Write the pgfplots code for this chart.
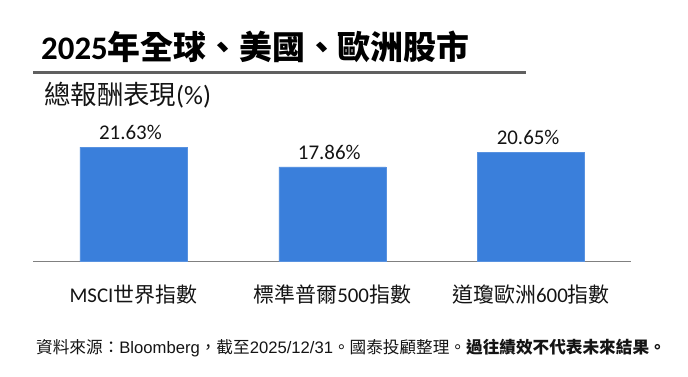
\documentclass[border=0pt]{standalone}
\usepackage{fontspec}
\usepackage{pgfplots}
\usepackage{pgfplotstable}
\pgfplotsset{compat=1.18}
\setmainfont{Carlito}
\newfontfamily\cjk{Noto Sans CJK TC}
\newfontfamily\arial{Liberation Sans}
\definecolor{barblue}{RGB}{58,127,219}
\definecolor{uline}{RGB}{96,96,96}
\definecolor{axgray}{RGB}{128,128,128}
\definecolor{txt}{RGB}{20,20,20}
\pgfplotstableread{
x y label
0 21.63 21.63\%
1 17.86 17.86\%
2 20.65 20.65\%
}\datatable
\begin{document}
\begin{tikzpicture}[x=1bp,y=1bp]
\useasboundingbox (0,0) rectangle (688,376);
\begin{axis}[
  at={(33bp,114.5bp)}, anchor=south west,
  scale only axis, width=598bp, height=132.3bp,
  xmin=-0.505, xmax=2.5025, ymin=0, ymax=25,
  axis y line=none,
  axis x line*=bottom,
  x axis line style={-, draw=axgray, line width=1.5bp},
  xtick=data,
  xticklabels={MSCI{\cjk 世界指數},{\cjk 標準普爾}500{\cjk 指數},{\cjk 道瓊歐洲}600{\cjk 指數}},
  xtick style={draw=none},
  xticklabel style={font=\fontsize{21}{21}\selectfont, text=txt, inner sep=0pt, anchor=north, yshift=-23bp},
  ytick=\empty,
  clip=false,
  point meta=explicit symbolic,
  nodes near coords,
  nodes near coords style={font=\fontsize{21}{21}\selectfont, text=txt, inner sep=0pt, anchor=south, yshift=7bp, xshift=-3bp},
]
\addplot[ybar, bar width=107bp, fill=barblue, draw=barblue!85!white] table[x=x, y=y, meta=label] {\datatable};
\end{axis}
\node[anchor=base west, inner sep=0pt, text=black] at (41,317) {\fontsize{33}{33}\selectfont\bfseries 2025{\cjk 年全球、美國、歐洲股市}};
\draw[uline, line width=3bp] (33,304) -- (526,304);
\node[anchor=base west, inner sep=0pt, text=txt] at (44,272) {\fontsize{26.5}{26.5}\selectfont{\cjk 總報酬表現}(\%)};
\node[anchor=base west, inner sep=0pt, text=txt] at (36,23) {\fontsize{16.7}{16.7}\selectfont\cjk 資料來源：{\arial Bloomberg}，截至{\arial 2025/12/31}。國泰投顧整理。\textbf{過往績效不代表未來結果。}};
\end{tikzpicture}
\end{document}
